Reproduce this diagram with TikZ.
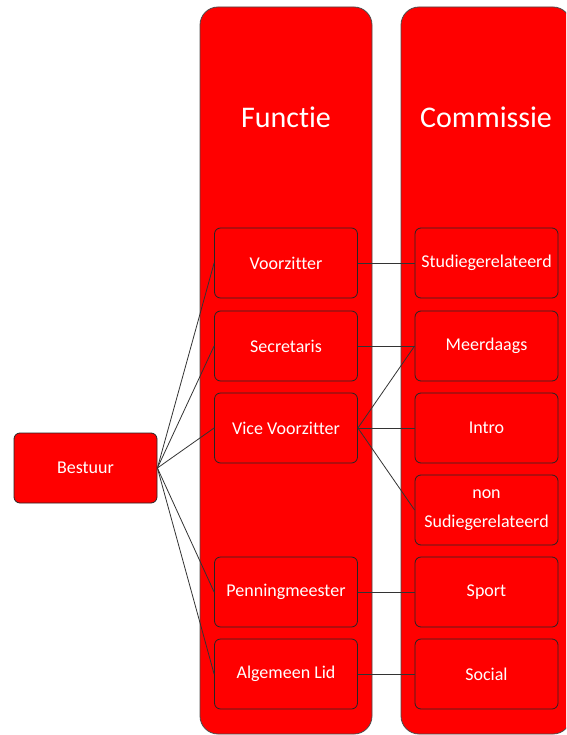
\documentclass[tikz,border=0pt]{standalone}
\usepackage{fontspec}
\setmainfont{Carlito}[Ligatures={NoCommon,NoRare}]
\begin{document}
\begin{tikzpicture}[x=1pt,y=-1pt,
  col/.style={draw=black!70,line width=0.8pt,fill=red,rounded corners=18pt},
  box/.style={draw=black!85,line width=0.8pt,fill=red,rounded corners=6pt,
    minimum width=143pt,minimum height=70pt,inner sep=0pt,
    text=white,font=\fontsize{18}{21}\selectfont,align=center},
  head/.style={text=white,font=\fontsize{30}{34}\selectfont},
  link/.style={draw=black!80,line width=0.8pt}]
\useasboundingbox (0,0) rectangle (566,735);
\clip (0,0) rectangle (566,735);
\draw[col] (200,7) rectangle (372,734);
\draw[col] (401,7) rectangle (571,734);
\node[head] (hf) at (286,117) {Functie};
\node[head] (hc) at (486,117) {Commissie};
\node[box] (bestuur) at (85.5,468) {Bestuur};
\node[box] (vz) at (286,263) {Voorzitter};
\node[box] (sec) at (286,346) {Secretaris};
\node[box] (vvz) at (286,428) {Vice Voorzitter};
\node[box] (pm) at (286,592) {Penningmeester};
\node[box] (al) at (286,674) {Algemeen Lid};
\node[box] (stud) at (486.5,263) {Studiegerelateerd};
\node[box] (meer) at (486.5,346) {Meerdaags};
\node[box] (intro) at (486.5,428) {Intro};
\node[box] (non) at (486.5,510) {non\\[8pt]Sudiegerelateerd};
\node[box] (sport) at (486.5,592) {Sport};
\node[box] (social) at (486.5,674) {Social};
\foreach \t in {vz,sec,vvz,pm,al}
  \draw[link] (bestuur.east) -- (\t.west);
\draw[link] (vz.east) -- (stud.west);
\draw[link] (sec.east) -- (meer.west);
\draw[link] (vvz.east) -- (meer.west);
\draw[link] (vvz.east) -- (intro.west);
\draw[link] (vvz.east) -- (non.west);
\draw[link] (pm.east) -- (sport.west);
\draw[link] (al.east) -- (social.west);
\end{tikzpicture}
\end{document}
